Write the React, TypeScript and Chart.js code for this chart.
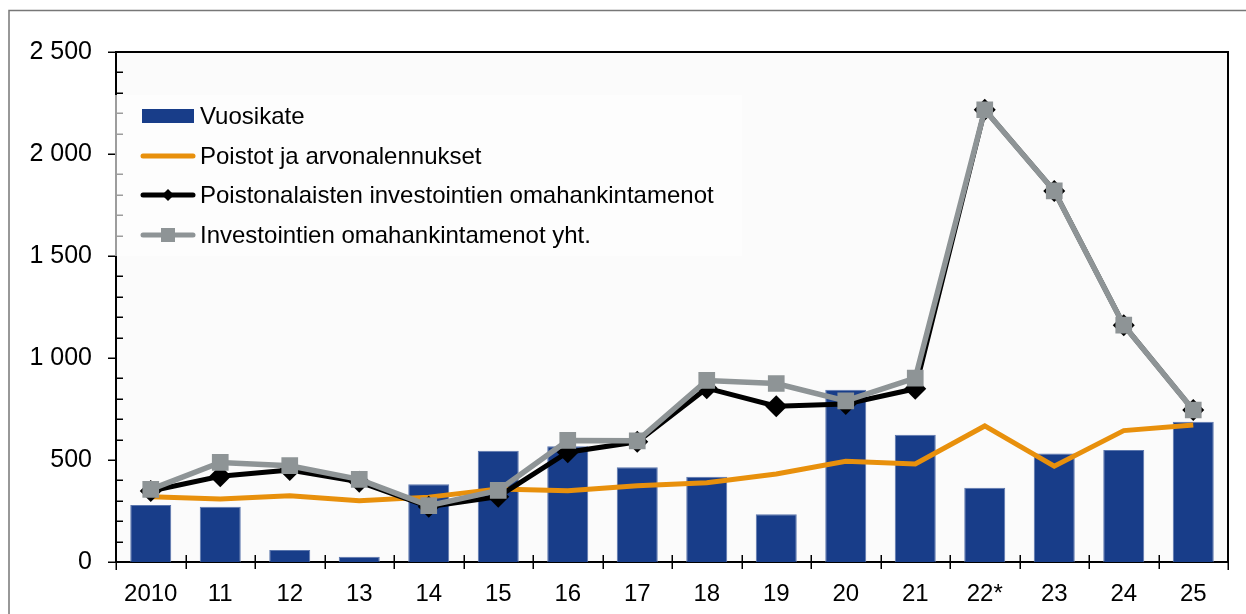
import React, { useEffect, useRef } from 'react';
import { Chart, registerables } from 'chart.js';

Chart.register(...registerables);

const categories = ['2010', '11', '12', '13', '14', '15', '16', '17', '18', '19', '20', '21', '22*', '23', '24', '25'];
const vuosikate = [279, 271, 59, 26, 381, 545, 568, 465, 418, 234, 844, 624, 364, 532, 549, 688];
const poistot = [320, 309, 325, 300, 318, 358, 349, 374, 389, 431, 494, 481, 667, 470, 644, 672];
const poistonalaiset = [348, 420, 451, 393, 271, 320, 538, 589, 852, 764, 775, 849, 2217, 1819, 1161, 745];
const investoinnit = [356, 488, 472, 405, 276, 351, 596, 594, 890, 875, 790, 901, 2217, 1819, 1161, 745];
const seriesLabels = [
  'Vuosikate',
  'Poistot ja arvonalennukset',
  'Poistonalaisten investointien omahankintamenot',
  'Investointien omahankintamenot yht.',
];
const yMax = 2500;
const yMajorStep = 500;
const yMinorStep = 100;

const FONT = '"Liberation Sans", Arial, sans-serif';
const BLUE = '#183d89';
const ORANGE = '#e8900c';
const GRAY = '#8e9496';
const BLACK = '#000000';

const formatNum = (v: number) => {
  const s = String(Math.round(v));
  return s.replace(/\B(?=(\d{3})+(?!\d))/g, ' ');
};

const decorPlugin = {
  id: 'decor',
  beforeDraw(chart: any) {
    const { ctx, chartArea: a } = chart;
    ctx.save();
    ctx.fillStyle = '#ffffff';
    ctx.fillRect(0, 0, chart.width, chart.height);
    ctx.fillStyle = '#fbfbfb';
    ctx.fillRect(a.left, a.top, a.right - a.left, a.bottom - a.top);
    ctx.strokeStyle = '#777777';
    ctx.lineWidth = 1.5;
    ctx.strokeRect(9, 10.5, chart.width + 40, chart.height + 40);
    ctx.restore();
  },
  afterDraw(chart: any) {
    const { ctx, chartArea: a } = chart;
    const xs = chart.scales.x;
    const ys = chart.scales.y;
    ctx.save();
    // plot border top & right
    ctx.strokeStyle = '#000';
    ctx.lineWidth = 2;
    ctx.beginPath();
    ctx.moveTo(a.left, a.top);
    ctx.lineTo(a.right, a.top);
    ctx.lineTo(a.right, a.bottom);
    ctx.stroke();
    // y ticks
    ctx.lineWidth = 1.5;
    for (let v = 0; v <= yMax; v += yMinorStep) {
      const y = Math.round(ys.getPixelForValue(v)) + 0.25;
      ctx.beginPath();
      if (v % yMajorStep === 0) {
        ctx.moveTo(a.left - 8, y);
        ctx.lineTo(a.left, y);
      } else {
        ctx.moveTo(a.left, y);
        ctx.lineTo(a.left + 7, y);
      }
      ctx.stroke();
    }
    // x ticks at category boundaries
    const n = categories.length;
    for (let i = 0; i <= n; i++) {
      const x = Math.round(xs.getPixelForValue(i - 0.5)) + 0.25;
      ctx.beginPath();
      if (i === 0 || i === n) {
        ctx.moveTo(x, a.bottom);
        ctx.lineTo(x, a.bottom + 8);
      } else {
        ctx.moveTo(x, a.bottom - 7);
        ctx.lineTo(x, a.bottom + 7);
      }
      ctx.stroke();
    }
    // legend
    const lx = 115, ly = 95, lw = 627, lh = 161;
    ctx.fillStyle = 'rgba(253,253,253,0.62)';
    ctx.fillRect(lx, ly, lw, lh);
    const rows = [116, 156, 195, 235];
    const sx0 = 143, sx1 = 193, sc = 168;
    chart.data.datasets.forEach((ds: any, i: number) => {
      const y = rows[i];
      if (i === 0) {
        ctx.fillStyle = BLUE;
        ctx.fillRect(142, y - 7, 52, 14);
      } else {
        ctx.strokeStyle = ds.borderColor;
        ctx.lineWidth = 5;
        ctx.lineCap = 'round';
        ctx.beginPath();
        ctx.moveTo(sx0, y);
        ctx.lineTo(sx1, y);
        ctx.stroke();
        if (i === 2) {
          ctx.fillStyle = BLACK;
          ctx.beginPath();
          ctx.moveTo(sc - 6, y);
          ctx.lineTo(sc, y - 6);
          ctx.lineTo(sc + 6, y);
          ctx.lineTo(sc, y + 6);
          ctx.closePath();
          ctx.fill();
        } else if (i === 3) {
          ctx.fillStyle = GRAY;
          ctx.fillRect(sc - 7, y - 7, 14, 14);
        }
      }
      ctx.fillStyle = '#000';
      ctx.font = `24px ${FONT}`;
      ctx.textBaseline = 'middle';
      ctx.textAlign = 'left';
      ctx.fillText(ds.label, 200, y + 1);
    });
    ctx.restore();
  },
};

export default function App() {
  const ref = useRef<HTMLCanvasElement | null>(null);
  useEffect(() => {
    if (!ref.current) return;
    const chart = new Chart(ref.current, {
      data: {
        labels: categories,
        datasets: [
          {
            type: 'bar',
            label: seriesLabels[0],
            data: vuosikate,
            backgroundColor: BLUE,
            borderColor: '#5b76ad',
            borderWidth: 1,
            barPercentage: 0.59,
            categoryPercentage: 1,
            order: 3,
          } as any,
          {
            type: 'line',
            label: seriesLabels[1],
            data: poistot,
            borderColor: ORANGE,
            borderWidth: 5,
            pointRadius: 0,
            tension: 0,
            order: 2,
          },
          {
            type: 'line',
            label: seriesLabels[2],
            data: poistonalaiset,
            borderColor: BLACK,
            borderWidth: 5,
            pointStyle: 'rectRot',
            pointRadius: 11,
            pointBackgroundColor: BLACK,
            pointBorderColor: BLACK,
            pointBorderWidth: 0,
            tension: 0,
            order: 1,
          },
          {
            type: 'line',
            label: seriesLabels[3],
            data: investoinnit,
            borderColor: GRAY,
            borderWidth: 5.5,
            pointStyle: 'rect',
            pointRadius: 11.8,
            pointBackgroundColor: GRAY,
            pointBorderColor: GRAY,
            pointBorderWidth: 0,
            tension: 0,
            order: 0,
          },
        ],
      },
      options: {
        animation: false,
        responsive: false,
        devicePixelRatio: 1,
        events: [],
        layout: { padding: { top: 52, right: 18, left: 0, bottom: 0 } },
        plugins: { legend: { display: false }, tooltip: { enabled: false } },
        scales: {
          x: {
            type: 'category',
            offset: true,
            grid: { display: false, drawTicks: false },
            border: { display: true, color: '#000', width: 2 },
            ticks: {
              color: '#000',
              font: { family: FONT, size: 24 },
              padding: 18,
              maxRotation: 0,
              autoSkip: false,
            },
            afterFit: (s: any) => { s.height = 52; },
          },
          y: {
            min: 0,
            max: yMax,
            grid: { display: false, drawTicks: false },
            border: { display: true, color: '#000', width: 2 },
            ticks: {
              stepSize: yMajorStep,
              color: '#000',
              font: { family: FONT, size: 25 },
              padding: 24,
              callback: (v: any) => formatNum(Number(v)),
            },
            afterFit: (s: any) => { s.width = 116; },
          },
        },
      },
      plugins: [decorPlugin],
    } as any);
    return () => chart.destroy();
  }, []);
  return (
    <div style={{ position: 'fixed', left: 0, top: 0, width: 1246, height: 614, background: '#fff' }}>
      <canvas ref={ref} width={1246} height={614} style={{ display: 'block' }} />
    </div>
  );
}
